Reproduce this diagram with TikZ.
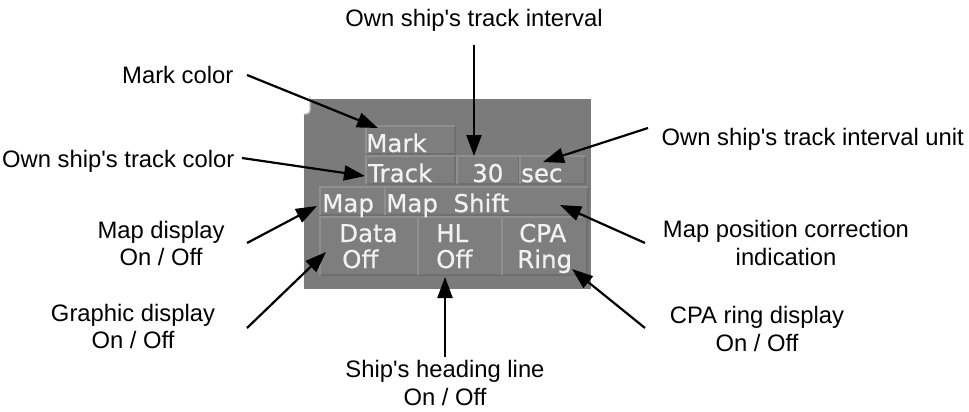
\documentclass[tikz,border=0pt]{standalone}
\usepackage{fontspec}
\usetikzlibrary{arrows.meta}
\newfontfamily\lblfamily{Liberation Sans}
\newfontfamily\pnlfamily[FakeBold=0.6]{DejaVu Sans}
\definecolor{panelgray}{HTML}{7B7B7B}
\definecolor{boxgray}{HTML}{7E7E7E}
\definecolor{boxlight}{HTML}{8F8F8F}
\definecolor{boxdark}{HTML}{6F6F6F}
\definecolor{pnltext}{HTML}{F2F2F2}
\definecolor{cornerline}{HTML}{C8C8C8}
\tikzset{
  lbl/.style={font=\lblfamily\fontsize{23.8}{27.5}\selectfont, inner sep=0pt, anchor=base},
  ptxt/.style={font=\pnlfamily\fontsize{24.5}{26}\selectfont, text=pnltext, inner sep=0pt, anchor=base west},
  arr/.style={line width=2.2pt, -{Triangle[length=21pt,width=15pt]}},
}
\newcommand\panelbtn[4]{%
  \fill[boxgray] (#1,#2) rectangle (#3,#4);
  \draw[boxdark, line width=1.2pt] (#1,#4) -- (#3,#4) -- (#3,#2);
  \draw[boxlight, line width=1.2pt] (#1,#4) -- (#1,#2) -- (#3,#2);
}
\begin{document}
\begin{tikzpicture}[x=1pt,y=-1pt]
\useasboundingbox (0,0) rectangle (969,412);
\fill[white] (0,0) rectangle (969,412);

% panel
\fill[panelgray] (304,99) rectangle (591,289);
\fill[white, rounded corners=4pt] (301,96) rectangle (310,114);
\draw[cornerline, line width=1.4pt, rounded corners=4pt] (310,96) -- (310,114) -- (303.5,114);

% buttons
\panelbtn{366}{126}{455}{154}
\panelbtn{366}{156}{455}{184}
\panelbtn{457}{156}{519}{184}
\panelbtn{520}{156}{585}{184}
\panelbtn{320}{187}{385}{215}
\panelbtn{385}{187}{588}{215}
\panelbtn{320}{217}{418}{275}
\panelbtn{418}{217}{502}{275}
\panelbtn{502}{217}{587}{275}

% panel texts
\node[ptxt] (tMark) at (366,152) {Mark};
\node[ptxt] (tTrack) at (368,182) {Track};
\node[ptxt] (tThirty) at (472,182) {30};
\node[ptxt] (tSec) at (521,182) {sec};
\node[ptxt] (tMap) at (322,212) {Map};
\node[ptxt] (tShift) at (386,212) {Map\ \ Shift};
\node[ptxt] (tData) at (339,242) {Data};
\node[ptxt] (tDataOff) at (342,268) {Off};
\node[ptxt] (tHL) at (436,242) {HL};
\node[ptxt] (tHLOff) at (436,268) {Off};
\node[ptxt] (tCPA) at (519,242) {CPA};
\node[ptxt] (tRing) at (517,268) {Ring};

% labels
\node[lbl] (lInterval) at (474,27) {Own ship's track interval};
\node[lbl, anchor=base west] (lMark) at (122,83) {Mark color};
\node[lbl, anchor=base west] (lTrack) at (2,167) {Own ship's track color};
\node[lbl, anchor=base east] (lUnit) at (964,145) {Own ship's track interval unit};
\node[lbl] (lMapA) at (161,238) {Map display};
\node[lbl] (lMapB) at (161,265) {On / Off};
\node[lbl] (lPosA) at (786,237) {Map position correction};
\node[lbl] (lPosB) at (786,265) {indication};
\node[lbl] (lGrA) at (133,321) {Graphic display};
\node[lbl] (lGrB) at (133,348) {On / Off};
\node[lbl] (lCpaA) at (757,323) {CPA ring display};
\node[lbl] (lCpaB) at (757,351) {On / Off};
\node[lbl] (lHdA) at (445,377) {Ship's heading line};
\node[lbl] (lHdB) at (445,405) {On / Off};

% connector ends
\coordinate (sInterval) at (474,45);  \coordinate (eInterval) at (474,156);
\coordinate (sMark) at (247,75);      \coordinate (eMark) at (378,128);
\coordinate (sTrack) at (242,158);    \coordinate (eTrack) at (365,176);
\coordinate (sUnit) at (648,128);     \coordinate (eUnit) at (543,162);
\coordinate (sMap) at (247,243);      \coordinate (eMap) at (317,206);
\coordinate (sPos) at (645,243);      \coordinate (ePos) at (560,205);
\coordinate (sGr) at (247,328);       \coordinate (eGr) at (326,252);
\coordinate (sHd) at (445,357);       \coordinate (eHd) at (445,277);
\coordinate (sCpa) at (645,328);      \coordinate (eCpa) at (572,269);

\draw[arr] (sInterval) -- (eInterval);
\draw[arr] (sMark) -- (eMark);
\draw[arr] (sTrack) -- (eTrack);
\draw[arr] (sUnit) -- (eUnit);
\draw[arr] (sMap) -- (eMap);
\draw[arr] (sPos) -- (ePos);
\draw[arr] (sGr) -- (eGr);
\draw[arr] (sHd) -- (eHd);
\draw[arr] (sCpa) -- (eCpa);
\end{tikzpicture}
\end{document}
